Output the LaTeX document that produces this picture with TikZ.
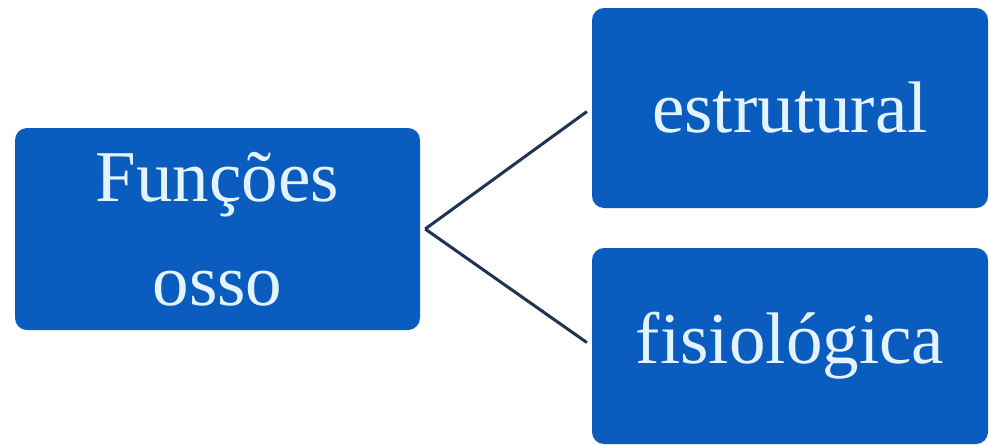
\documentclass[tikz,border=0pt]{standalone}
\usepackage{fontspec}
\setmainfont{Liberation Serif}
\usepackage{xcolor}
\usepackage{tikz}
\usetikzlibrary{positioning}

\definecolor{boxblue}{RGB}{10,92,190}
\definecolor{boxtext}{RGB}{228,244,255}
\definecolor{linkcol}{RGB}{30,52,80}

\begin{document}
\begin{tikzpicture}[x=1pt, y=-1pt,
        funcbox/.style={rectangle, fill=boxblue, draw=none, rounded corners=12pt, inner sep=0pt, align=center, text=boxtext, font=\fontsize{73}{104}\selectfont},
        link/.style={draw=linkcol, line width=3pt, shorten >=6pt}
    ]
    \useasboundingbox (0,0) rectangle (989,445);

    % Main node (left)
    \node[funcbox, minimum width=405pt, minimum height=202pt] (funcoes) at (217.5, 229) {Funções\\osso};

    % Branches (right)
    \node[funcbox, minimum width=396pt, minimum height=200pt] (estrutural) at (790, 108) {estrutural};
    \node[funcbox, minimum width=396pt, minimum height=196pt] (fisiologica) at (790, 346) {fisiológica};

    % Connectors, meeting just right of the main node
    \coordinate (apex) at ([xshift=5pt]funcoes.east);
    \draw[link] (apex) -- (estrutural.west);
    \draw[link] (apex) -- (fisiologica.west);

\end{tikzpicture}
\end{document}
